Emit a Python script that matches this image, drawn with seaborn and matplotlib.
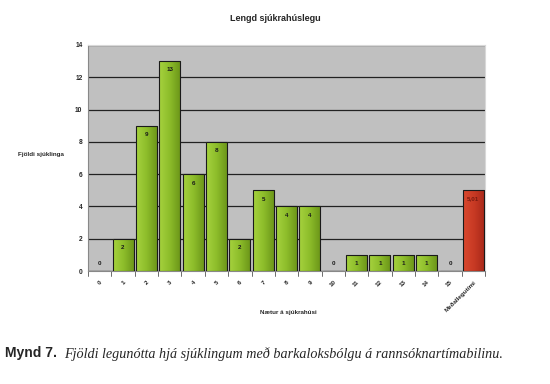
import matplotlib.pyplot as plt
import seaborn as sns
import pandas as pd
import numpy as np
from matplotlib.colors import LinearSegmentedColormap

# data
nights = ["0", "1", "2", "3", "4", "5", "6", "7", "8", "9", "10",
          "11", "12", "13", "14", "15", "Meðallegutími"]
patients = [0, 2, 9, 13, 6, 8, 2, 5, 4, 4, 0, 1, 1, 1, 1, 0, 5.01]
value_labels = ["0", "2", "9", "13", "6", "8", "2", "5", "4", "4", "0",
                "1", "1", "1", "1", "0", "5,01"]

df = pd.DataFrame({"night": nights, "count": patients,
                   "kind": ["day"] * 16 + ["mean"]})

sns.set_style("white")
plt.rcParams['font.family'] = ['Liberation Sans', 'DejaVu Sans']

fig = plt.figure(figsize=(5.5, 3.84), dpi=100)
ax = fig.add_axes([0.16, 0.294, 0.722, 0.589])
ax.set_facecolor("#c0c0c0")

sns.barplot(data=df, x="night", y="count", hue="kind",
            palette={"day": "#8dbd2c", "mean": "#c83a24"}, saturation=1,
            dodge=False, width=0.9, edgecolor="#1a1a1a", linewidth=0.8,
            legend=False, ax=ax, zorder=3)

ax.set_xlim(-0.5, len(nights) - 0.5)
ax.set_ylim(0, 14)

# horizontal gradient inside each bar
grad = np.linspace(0, 1, 64).reshape(1, -1)
cm_green = LinearSegmentedColormap.from_list("g", ["#a6d23e", "#8cbc2a", "#6a9418"])
cm_red = LinearSegmentedColormap.from_list("r", ["#d9482e", "#c83a24", "#a8281a"])
for p in ax.patches:
    x0, y0 = p.get_x(), p.get_y()
    w, h = p.get_width(), p.get_height()
    if h <= 0:
        continue
    cmap = cm_red if x0 > len(nights) - 1.6 else cm_green
    im = ax.imshow(grad, cmap=cmap, aspect="auto",
                   extent=[x0, x0 + w, y0, y0 + h], zorder=3.5)
    im.set_clip_path(p)
    p.set_facecolor("none")
    p.set_zorder(4)
ax.set_xlim(-0.5, len(nights) - 0.5)
ax.set_ylim(0, 14)

ax.set_yticks(range(0, 15, 2))
ax.yaxis.grid(True, color="#222222", linewidth=0.9, zorder=0)
ax.set_axisbelow(True)

ax.set_xticks([i for i in range(len(nights))])
ax.set_xticklabels(nights, rotation=45, ha="right", rotation_mode="anchor",
                   fontsize=4.5, fontweight="bold")
ax.tick_params(axis="x", length=0, pad=6)
ax.tick_params(axis="y", labelsize=4.8, length=3, width=0.6, pad=1)
for t in ax.get_yticklabels():
    t.set_fontweight("bold")
# ticks between categories
for b in range(len(nights) + 1):
    ax.plot([b - 0.5, b - 0.5], [0, -0.3], color="#555555", lw=0.6,
            clip_on=False)

for s in ["top", "right"]:
    ax.spines[s].set_color("#d8d8d8")
ax.spines["left"].set_color("#888888")
ax.spines["bottom"].set_color("#888888")
ax.spines["left"].set_linewidth(0.8)
ax.spines["bottom"].set_linewidth(0.8)

for i, (v, lab) in enumerate(zip(patients, value_labels)):
    y = v - 0.55 if v > 0 else 0.45
    col = "#7a1a10" if i == len(nights) - 1 else "#1a1a1a"
    ax.text(i, y, lab, ha="center", va="center", fontsize=4.5,
            fontweight="bold", color=col, zorder=5)

ax.set_xlabel("")
ax.set_ylabel("")
fig.text(0.5, 0.953, "Lengd sjúkrahúslegu", ha="center", va="center",
         fontsize=6.5, fontweight="bold")
fig.text(0.033, 0.598, "Fjöldi sjúklinga", ha="left", va="center",
         fontsize=4.5, fontweight="bold")
fig.text(0.524, 0.185, "Nætur á sjúkrahúsi", ha="center", va="center",
         fontsize=4.5, fontweight="bold")

fig.text(0.009, 0.08, "Mynd 7.", ha="left", va="center", fontsize=10,
         fontweight="bold", family=["Liberation Sans", "DejaVu Sans"])
fig.text(0.116, 0.078,
         "Fjöldi legunótta hjá sjúklingum með barkaloksbólgu á rannsóknartímabilinu.",
         ha="left", va="center", fontsize=10.2, style="italic",
         family=["Liberation Serif", "DejaVu Serif"])

fig.savefig("out.png", dpi=100)
